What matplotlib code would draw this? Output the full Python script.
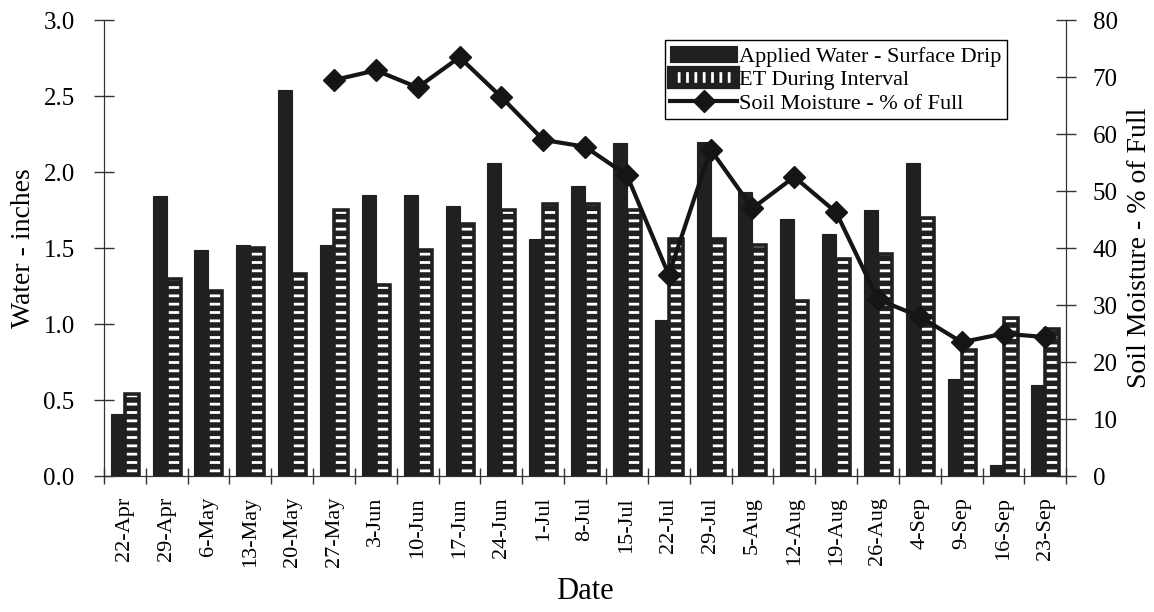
import numpy as np
import matplotlib
matplotlib.use("Agg")
import matplotlib.pyplot as plt
from matplotlib.legend_handler import HandlerTuple

# weekly irrigation record
dates = ['22-Apr', '29-Apr', '6-May', '13-May', '20-May', '27-May', '3-Jun',
         '10-Jun', '17-Jun', '24-Jun', '1-Jul', '8-Jul', '15-Jul', '22-Jul',
         '29-Jul', '5-Aug', '12-Aug', '19-Aug', '26-Aug', '4-Sep', '9-Sep',
         '16-Sep', '23-Sep']
applied = [0.41, 1.84, 1.49, 1.52, 2.54, 1.52, 1.85, 1.85, 1.78, 2.06, 1.56,
           1.91, 2.19, 1.03, 2.20, 1.87, 1.69, 1.59, 1.75, 2.06, 0.64, 0.07, 0.60]
et = [0.54, 1.30, 1.22, 1.50, 1.33, 1.75, 1.26, 1.49, 1.66, 1.75, 1.79,
      1.79, 1.75, 1.56, 1.56, 1.52, 1.15, 1.43, 1.46, 1.70, 0.83, 1.04, 0.97]
# soil moisture readings begin on 27-May
soil = [np.nan, np.nan, np.nan, np.nan, np.nan, 69.5, 71.2, 68.2, 73.5, 66.5,
        59.0, 57.8, 52.8, 35.3, 57.3, 47.0, 52.5, 46.3, 31.0, 28.0, 23.5,
        25.0, 24.4]

plt.rcParams['font.family'] = ['Liberation Serif', 'DejaVu Serif']
plt.rcParams['hatch.linewidth'] = 2.0

dark = '#202020'
x = np.arange(len(dates))
w = 0.335

fig, ax = plt.subplots(figsize=(11.54, 6.12), dpi=100)
fig.subplots_adjust(left=0.090, right=0.924, top=0.967, bottom=0.222)

b1 = ax.bar(x - w / 2, applied, w, color=dark, edgecolor=dark, linewidth=0.8,
            label='Applied Water - Surface Drip')
# ET bars: dark fill, white dash hatch, dark outline on top
ax.bar(x + w / 2, et, w, color=dark, linewidth=0)
ax.bar(x + w / 2, et, w, color='none', edgecolor='white', hatch='--', linewidth=0)
ax.bar(x + w / 2, et, w, color='none', edgecolor=dark, linewidth=2.6)

# legend key for ET: dark block with a white comb along its top
et_fill = plt.Rectangle((0, 0), 1, 1, facecolor=dark, linewidth=0)
et_comb = plt.Rectangle((0, 0), 1, 1, facecolor='none', edgecolor='white',
                        hatch='||', linewidth=0)
et_edge = plt.Rectangle((0, 0), 1, 1, facecolor='none', edgecolor=dark,
                        linewidth=4.5)

ax.set_xlim(-0.5, len(dates) - 0.5)
ax.set_ylim(0, 3.0)
ax.set_yticks(np.arange(0, 3.01, 0.5))
ax.set_yticklabels(['%.1f' % v for v in np.arange(0, 3.01, 0.5)])
ax.set_xticks(x)
ax.set_xticklabels(dates, rotation=90, fontsize=16)
ax.set_xticks(np.arange(-0.5, len(dates), 1), minor=True)
ax.tick_params(axis='x', which='major', length=0, pad=15)
ax.tick_params(axis='x', which='minor', direction='inout', length=12,
               width=1, color='#333333')
ax.tick_params(axis='y', direction='inout', length=14, width=1,
               color='#333333', labelsize=18, pad=14)
ax.spines['top'].set_visible(False)
for s in ['left', 'bottom', 'right']:
    ax.spines[s].set_color('#333333')
ax.set_ylabel('Water - inches', fontsize=20, labelpad=5)
ax.set_xlabel('Date', fontsize=22, labelpad=7)

ax2 = ax.twinx()
ln, = ax2.plot(x, soil, color='#151515', linewidth=3, marker='D',
               markersize=11.5, label='Soil Moisture - % of Full')
ax2.set_ylim(0, 80)
ax2.set_yticks(np.arange(0, 81, 10))
ax2.tick_params(axis='y', direction='inout', length=14, width=1,
                color='#333333', labelsize=18, pad=12)
ax2.spines['top'].set_visible(False)
for s in ['left', 'bottom', 'right']:
    ax2.spines[s].set_color('#333333')
ax2.set_ylabel('Soil Moisture - % of Full', fontsize=20, labelpad=7)

leg = ax2.legend([b1, (et_fill, et_comb, et_edge), ln],
                 ['Applied Water - Surface Drip', 'ET During Interval',
                  'Soil Moisture - % of Full'],
                 handler_map={tuple: HandlerTuple(ndivide=1, pad=0)},
                 loc='upper right', bbox_to_anchor=(0.9387, 0.956),
                 borderaxespad=0, fontsize=16, handlelength=3.0,
                 handleheight=0.75, handletextpad=0.1, labelspacing=0.12,
                 borderpad=0.25, fancybox=False, framealpha=1,
                 edgecolor='black', numpoints=1)
leg.get_frame().set_linewidth(1.0)

fig.savefig('out.png', dpi=100)
